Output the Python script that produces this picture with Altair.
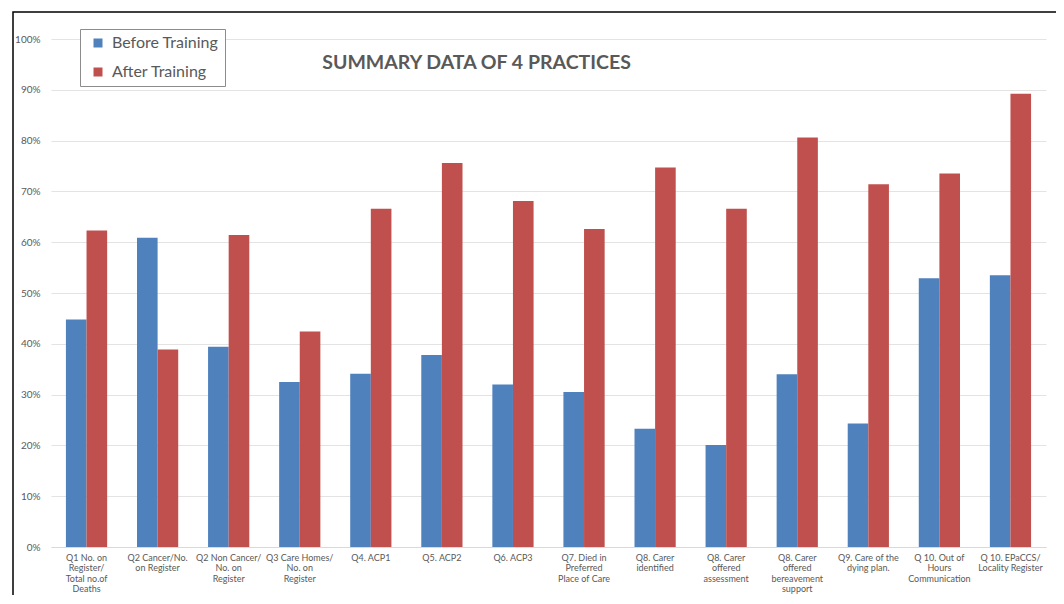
import altair as alt
import pandas as pd

categories = [
    "Q1  No. on|Register/|Total no.of|Deaths",
    "Q2 Cancer/No.|on Register",
    "Q2 Non Cancer/|No. on|Register",
    "Q3 Care Homes/|No. on|Register",
    "Q4.  ACP1",
    "Q5.  ACP2",
    "Q6.  ACP3",
    "Q7. Died in|Preferred|Place of Care",
    "Q8. Carer|identified",
    "Q8. Carer|offered|assessment",
    "Q8. Carer|offered|bereavement|support",
    "Q9. Care of the|dying plan.",
    "Q 10. Out of|Hours|Communication",
    "Q 10. EPaCCS/|Locality Register",
]
before = [44.8, 60.9, 39.4, 32.5, 34.1, 37.8, 32.0, 30.5, 23.3, 20.1, 34.0, 24.3, 52.9, 53.5]
after = [62.3, 38.9, 61.4, 42.4, 66.6, 75.6, 68.1, 62.6, 74.7, 66.6, 80.6, 71.4, 73.5, 89.2]
series = ["Before Training", "After Training"]
colors = ["#4F81BD", "#C0504D"]
y_ticks = [0, 0.1, 0.2, 0.3, 0.4, 0.5, 0.6, 0.7, 0.8, 0.9, 1.0]

rows = []
for c, b, a in zip(categories, before, after):
    rows.append({"category": c, "series": series[0], "value": b / 100})
    rows.append({"category": c, "series": series[1], "value": a / 100})
df = pd.DataFrame(rows)

W, H = 995, 508
TXT = "#595959"

bars = alt.Chart(df).mark_bar().encode(
    x=alt.X(
        "category:N",
        sort=categories,
        scale=alt.Scale(paddingInner=0.42, paddingOuter=0.21),
        axis=alt.Axis(
            title=None,
            labelAngle=0,
            labelExpr="split(datum.label, '|')",
            labelLineHeight=10.6,
            labelBaseline="top",
            labelPadding=6,
            labelFont="Lato",
            labelFontSize=9,
            labelColor=TXT,
            labelLimit=200,
            ticks=False,
            domainColor="#d9d9d9",
            domainWidth=1,
            grid=False,
        ),
    ),
    xOffset=alt.XOffset("series:N", sort=series),
    y=alt.Y(
        "value:Q",
        scale=alt.Scale(domain=[0, 1], nice=False),
        axis=alt.Axis(
            title=None,
            format=".0%",
            values=y_ticks,
            labelFont="Lato",
            labelFontSize=10,
            labelColor=TXT,
            labelPadding=11,
            ticks=False,
            domain=False,
            gridColor="#e3e3e3",
            gridWidth=1,
        ),
    ),
    color=alt.Color(
        "series:N",
        sort=series,
        scale=alt.Scale(domain=series, range=colors),
        legend=alt.Legend(
            title=None,
            orient="none",
            legendX=29,
            legendY=-10,
            direction="vertical",
            symbolType="square",
            symbolSize=81,
            symbolStrokeWidth=0,
            symbolOffset=4,
            labelFont="Lato",
            labelFontSize=16,
            labelColor=TXT,
            labelOffset=6,
            rowPadding=13,
            padding=6,
            strokeColor="#8c8c8c",
            fillColor="white",
        ),
    ),
)

frame = alt.Chart(alt.Data(values=[{}])).mark_rect(
    fill=None, stroke="black", strokeWidth=1.5
).encode(
    x=alt.value(-38), x2=alt.value(1007), y=alt.value(-27), y2=alt.value(620)
)

chart = alt.layer(frame, bars).properties(
    width=W,
    height=H,
    autosize=alt.AutoSizeParams(type="none"),
    padding={"left": 43, "top": 31, "right": 10, "bottom": 48},
    title=alt.TitleParams(
        "SUMMARY DATA OF 4 PRACTICES",
        anchor="start",
        dx=310,
        dy=77,
        offset=0,
        baseline="alphabetic",
        font="Lato",
        fontSize=19.5,
        fontWeight="bold",
        color=TXT,
    ),
).configure_view(stroke=None)

chart.save("out.html", embed_options={"renderer": "svg", "actions": False})
